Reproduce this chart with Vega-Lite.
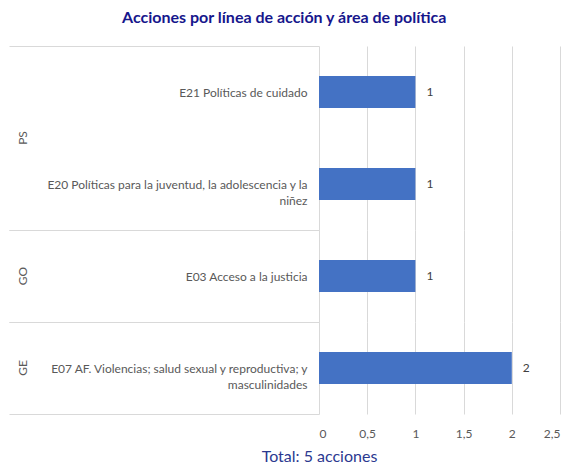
{
  "$schema": "https://vega.github.io/schema/vega-lite/v6.json",
  "padding": {"left": 8, "top": 10, "right": 5, "bottom": 5},
  "background": "white",
  "title": {
    "text": "Acciones por línea de acción y área de política",
    "font": "Lato",
    "fontSize": 16,
    "fontWeight": "bold",
    "color": "#16168C",
    "anchor": "middle",
    "offset": 14
  },
  "config": {
    "view": {"stroke": null},
    "font": "Lato"
  },
  "data": {
    "values": [
      {"area": "PS", "linea": "E21 Políticas de cuidado", "orden": 1, "acciones": 1},
      {"area": "PS", "linea": "E20 Políticas para la juventud, la adolescencia y la niñez", "orden": 2, "acciones": 1},
      {"area": "GO", "linea": "E03 Acceso a la justicia", "orden": 3, "acciones": 1},
      {"area": "GE", "linea": "E07 AF. Violencias; salud sexual y reproductiva; y masculinidades", "orden": 4, "acciones": 2}
    ]
  },
  "facet": {
    "row": {
      "field": "area",
      "type": "nominal",
      "sort": ["PS", "GO", "GE"],
      "header": {
        "title": null,
        "labelAngle": -90,
        "labelOrient": "left",
        "labelPadding": 284,
        "labelFont": "Lato",
        "labelFontSize": 12,
        "labelColor": "#595959"
      }
    }
  },
  "spacing": {"row": 0},
  "bounds": "flush",
  "resolve": {"scale": {"y": "independent"}},
  "spec": {
    "width": 241,
    "height": {"step": 92},
    "encoding": {
      "y": {
        "field": "linea",
        "type": "nominal",
        "sort": {"field": "orden"},
        "scale": {"paddingInner": 0, "paddingOuter": 0},
        "axis": {
          "title": null,
          "domain": false,
          "tickSize": 310,
          "tickBand": "extent",
          "tickColor": "#D9D9D9",
          "tickWidth": 1,
          "tickOpacity": {"condition": {"test": "datum.value == 'E21 Políticas de cuidado'", "value": 0}, "value": 1},
          "labelPadding": -298,
          "labelFont": "Lato",
          "labelFontSize": 12,
          "labelColor": "#595959",
          "labelLimit": 320,
          "labelLineHeight": 16,
          "labelExpr": "indexof(datum.label, 'E20') == 0 ? ['E20 Políticas para la juventud, la adolescencia y la', 'niñez'] : indexof(datum.label, 'E07') == 0 ? ['E07 AF. Violencias; salud sexual y reproductiva; y', 'masculinidades'] : datum.label"
        }
      },
      "x": {
        "field": "acciones",
        "type": "quantitative",
        "scale": {"domain": [0, 2.5], "nice": false},
        "axis": {
          "title": "Total: 5 acciones",
          "titleFont": "Lato",
          "titleFontSize": 16,
          "titleFontWeight": "normal",
          "titleColor": "#2B3990",
          "titleAnchor": "start",
          "titleAlign": "center",
          "titlePadding": 9,
          "domain": false,
          "ticks": false,
          "grid": true,
          "gridColor": "#D9D9D9",
          "values": [0, 0.5, 1, 1.5, 2, 2.5],
          "labelExpr": "replace(format(datum.value, ''), '.', ',')",
          "labelPadding": 14,
          "labelFont": "Lato",
          "labelFontSize": 12,
          "labelColor": "#595959"
        }
      }
    },
    "layer": [
      {
        "mark": {"type": "bar", "color": "#4472C4", "height": {"band": 0.35}}
      },
      {
        "mark": {"type": "text", "align": "left", "baseline": "middle", "dx": 11, "font": "Lato", "fontSize": 12, "color": "#404040"},
        "encoding": {"text": {"field": "acciones", "type": "quantitative"}}
      }
    ]
  }
}
